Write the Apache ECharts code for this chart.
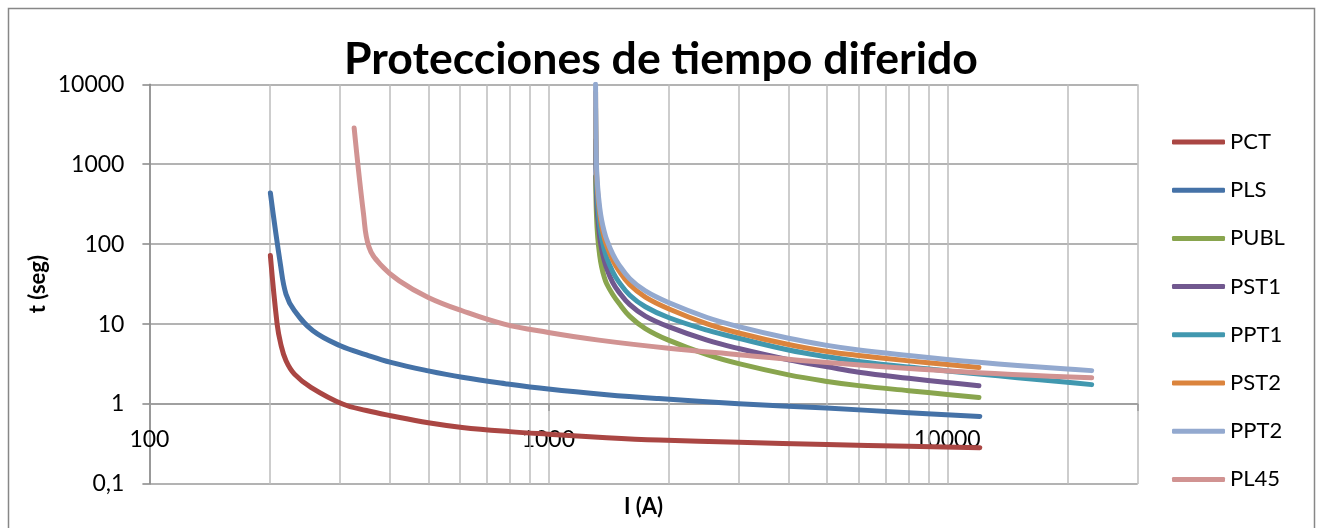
<!DOCTYPE html>
<html>
<head>
<meta charset="utf-8">
<script src="https://cdn.jsdelivr.net/npm/echarts@6/dist/echarts.min.js"></script>
<style>
html,body{margin:0;padding:0;background:#ffffff;}
#chart{width:1322px;height:528px;}
</style>
</head>
<body>
<div id="chart"></div>
<script>
// ---------------- data ----------------
const chartTitle = 'Protecciones de tiempo diferido';
const xAxisName = 'I (A)';
const yAxisName = 't (seg)';
const seriesNames = ['PCT', 'PLS', 'PUBL', 'PST1', 'PPT1', 'PST2', 'PPT2', 'PL45'];

// PCT
const pctI = [201, 209, 213.5, 220, 231, 254, 305, 350, 403, 500, 608, 800, 1000, 1400, 1891, 3000, 4980, 8000, 12060];
const pctT = [72, 10, 5.6, 3.48, 2.37, 1.62, 1.0, 0.83, 0.715, 0.583, 0.51, 0.452, 0.42, 0.38, 0.355, 0.333, 0.312, 0.297, 0.285];
// PLS
const plsI = [201, 213, 220, 231, 257, 301, 350, 403, 500, 608, 780, 1000, 1400, 1891, 3000, 4980, 8000, 12060];
const plsT = [438, 56, 23.7, 14.7, 8.25, 5.36, 4.12, 3.32, 2.6, 2.16, 1.8, 1.54, 1.31, 1.17, 1.01, 0.89, 0.78, 0.70];
// cluster of curves starting near 1310 A
const shortI = [1313, 1320, 1330, 1345, 1360, 1380, 1400, 1450, 1500, 1600, 1750, 2000, 2500, 3000, 4000, 5000, 6000, 8000, 10000, 12000];
const longI = [1313, 1320, 1330, 1345, 1360, 1380, 1400, 1450, 1500, 1600, 1750, 2000, 2500, 3000, 4000, 5000, 6000, 8000, 10000, 12000, 15000, 20000, 23000];
const publT = [700, 230, 120, 72, 52, 39, 32, 23.5, 18.5, 12.5, 8.8, 6.3, 4.15, 3.2, 2.32, 1.92, 1.7, 1.47, 1.32, 1.21];
const pst1T = [2000, 420, 215, 123, 87, 63, 50, 33, 25.5, 17.5, 12.6, 9.3, 6.3, 4.95, 3.58, 2.93, 2.5, 2.1, 1.86, 1.7];
const pst2T = [8000, 840, 420, 240, 168, 122, 96, 63, 47, 31, 21.8, 15.6, 10.1, 7.75, 5.55, 4.55, 4.05, 3.47, 3.12, 2.87];
const ppt1T = [5000, 600, 300, 170, 120, 87, 68, 45, 34, 23, 16.5, 12.1, 8.4, 6.65, 4.75, 3.9, 3.42, 2.9, 2.6, 2.38, 2.14, 1.87, 1.75];
const ppt2T = [10000, 1000, 500, 285, 200, 145, 114, 75, 56, 37, 26, 18.6, 12.1, 9.3, 6.65, 5.42, 4.75, 4.05, 3.62, 3.33, 3.04, 2.74, 2.62];
// PL45
const pl45I = [326, 344, 355, 379, 423, 500, 608, 775, 1000, 1338, 2000, 3000, 5000, 10000, 23000];
const pl45T = [2840, 242, 92.5, 56, 34.8, 21.6, 14.7, 10, 7.87, 6.31, 5.0, 4.15, 3.3, 2.6, 2.13];

// axis ticks
const xMajorTicks = [100, 1000, 10000];
const xTickLabels = ['100', '1000', '10000'];
const xMinorGrid = [200, 300, 400, 500, 600, 700, 800, 900, 2000, 3000, 4000, 5000, 6000, 7000, 8000, 9000, 20000];
const yTickValues = [0.1, 1, 10, 100, 1000, 10000];
const yTickLabels = ['0,1', '1', '10', '100', '1000', '10000'];

// ---------------- styling ----------------
const colors = ['#AA4643', '#4572A7', '#89A54E', '#71588F', '#4198AF', '#DB843D', '#93A9CF', '#D19392'];
const FONT = 'Lato, "Open Sans", "Liberation Sans", sans-serif';

function zip(xs, ys) { return xs.map((x, i) => [x, ys[i]]); }
const seriesData = [
  zip(pctI, pctT), zip(plsI, plsT), zip(shortI, publT), zip(shortI, pst1T),
  zip(longI, ppt1T), zip(shortI, pst2T), zip(longI, ppt2T), zip(pl45I, pl45T)
];

// fit title width to the reference
const ctx = document.createElement('canvas').getContext('2d');
ctx.font = 'bold 100px ' + FONT;
const titleSize = 100 * 634 / ctx.measureText(chartTitle).width;

function matchIdx(list, v) {
  for (let i = 0; i < list.length; i++) {
    if (Math.abs(Math.log10(v / list[i])) < 0.01) return i;
  }
  return -1;
}

const series = seriesNames.map((name, i) => {
  const s = {
    name: name,
    type: 'line',
    data: seriesData[i],
    showSymbol: false,
    symbol: 'none',
    smooth: 0.4,
    clip: true,
    z: 2,
    color: colors[i],
    lineStyle: { width: 5, color: colors[i], cap: 'round', join: 'round' },
    itemStyle: { color: colors[i] },
    emphasis: { disabled: true },
    silent: true
  };
  if (i === 0) {
    s.markLine = {
      silent: true,
      z: 1,
      symbol: ['none', 'none'],
      label: { show: false },
      emphasis: { disabled: true },
      lineStyle: { color: '#bdbdbd', width: 1.5, type: 'solid' },
      data: xMinorGrid.map(v => ({ xAxis: v }))
    };
  }
  return s;
});

const chart = echarts.init(document.getElementById('chart'), null, { renderer: 'canvas' });
chart.setOption({
  animation: false,
  backgroundColor: '#ffffff',
  title: {
    text: chartTitle,
    left: 'center',
    top: 37,
    padding: 0,
    textStyle: { fontFamily: FONT, fontWeight: 'bold', fontSize: titleSize, color: '#000000' }
  },
  graphic: [{
    type: 'rect',
    silent: true,
    z: -10,
    shape: { x: 8.5, y: 8.5, width: 1306, height: 560 },
    style: { fill: 'none', stroke: '#878787', lineWidth: 1.5 }
  }],
  legend: {
    orient: 'vertical',
    left: 1172,
    top: 131,
    padding: 0,
    itemWidth: 53,
    itemHeight: 5,
    itemGap: 26.2,
    icon: 'roundRect',
    selectedMode: false,
    data: seriesNames,
    textStyle: { fontFamily: FONT, fontSize: 22, color: '#000000', lineHeight: 22 }
  },
  grid: {
    left: 149.4,
    right: 1322 - 1137.7,
    top: 84.3,
    bottom: 528 - 484,
    containLabel: false,
    outerBoundsMode: 'none'
  },
  xAxis: {
    type: 'log',
    logBase: 10,
    min: 100,
    max: 30000,
    position: 'bottom',
    offset: -80,
    name: xAxisName,
    nameLocation: 'middle',
    nameGap: 92,
    nameMoveOverlap: false,
    nameTextStyle: { fontFamily: FONT, fontWeight: 'bold', fontSize: 22, color: '#000000' },
    axisLine: { show: true, lineStyle: { color: '#9a9a9a', width: 1.5 } },
    axisTick: { show: true, inside: false, length: 7, lineStyle: { color: '#9a9a9a', width: 1.5 } },
    axisLabel: {
      show: true, margin: 24, fontFamily: FONT, fontSize: 23, color: '#000000',
      showMinLabel: true, showMaxLabel: true, hideOverlap: false,
      formatter: function (v) { const k = matchIdx(xMajorTicks, v); return k >= 0 ? xTickLabels[k] : ''; }
    },
    splitLine: { show: true, lineStyle: { color: '#bdbdbd', width: 1.5 } },
    minorTick: { show: false },
    minorSplitLine: { show: false }
  },
  yAxis: {
    type: 'log',
    logBase: 10,
    min: 0.1,
    max: 10000,
    name: yAxisName,
    nameLocation: 'middle',
    nameGap: 100,
    nameRotate: 90,
    nameMoveOverlap: false,
    nameTextStyle: { fontFamily: FONT, fontWeight: 'bold', fontSize: 22, color: '#000000' },
    axisLine: { show: true, lineStyle: { color: '#878787', width: 1.5 } },
    axisTick: { show: true, inside: false, length: 7, lineStyle: { color: '#878787', width: 1.5 } },
    axisLabel: {
      show: true, margin: 25, fontFamily: FONT, fontSize: 23, color: '#000000',
      showMinLabel: true, showMaxLabel: true, hideOverlap: false,
      formatter: function (v) { const k = matchIdx(yTickValues, v); return k >= 0 ? yTickLabels[k] : ''; }
    },
    splitLine: { show: true, lineStyle: { color: '#9a9a9a', width: 1.5 } },
    minorTick: { show: false },
    minorSplitLine: { show: false }
  },
  series: series
});
</script>
</body>
</html>
